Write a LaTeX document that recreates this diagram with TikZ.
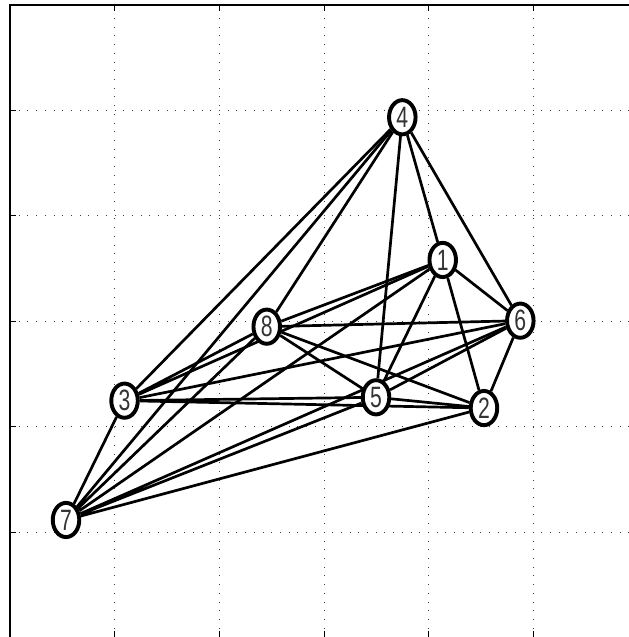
\documentclass[tikz,border=0pt]{standalone}
\usepackage{fontspec}
\newfontfamily\vertexfont{Liberation Sans}
\usetikzlibrary{shapes.geometric,backgrounds}

\tikzset{
  vertex/.style={ellipse, draw, line width=3.2pt, fill=white,
    minimum width=0.76cm, minimum height=0.98cm, inner sep=0pt,
    font=\vertexfont\fontsize{24}{24}\selectfont, text=black!80},
  link/.style={line width=2.2pt},
  gridline/.style={line width=0.8pt, black!75, dash pattern=on 0.8pt off 6.3pt},
  axistick/.style={line width=0.8pt}
}
\newcommand{\vlabel}[1]{\scalebox{0.72}[1]{#1}}

\begin{document}
\begin{tikzpicture}[x=3cm, y=3.02cm]
    \useasboundingbox (-0.0955,0.0038) rectangle (5.912,6.0475);

    \node[vertex] (n1) at (4.133,3.581) {\vlabel{1}};
    \node[vertex] (n2) at (4.527,2.176) {\vlabel{2}};
    \node[vertex] (n3) at (1.094,2.246) {\vlabel{3}};
    \node[vertex] (n4) at (3.747,4.935) {\vlabel{4}};
    \node[vertex] (n5) at (3.496,2.278) {\vlabel{5}};
    \node[vertex] (n6) at (4.874,3.005) {\vlabel{6}};
    \node[vertex] (n7) at (0.535,1.114) {\vlabel{7}};
    \node[vertex] (n8) at (2.452,2.948) {\vlabel{8}};

    \begin{pgfonlayer}{background}
    \foreach \k in {1,...,5} {
        \draw[gridline] (\k,0) -- (\k,6);
        \draw[gridline] (0,\k) -- (6,\k);
    }

    \draw[link] (n7) -- (n3) (n7) -- (n4) (n7) -- (n8) (n7) -- (n1);
    \draw[link] (n7) -- (n5) (n7) -- (n6) (n7) -- (n2);
    \draw[link] (n3) -- (n4) (n3) -- (n8) (n3) -- (n1);
    \draw[link] (n3) -- (n6) (n3) -- (n5) (n3) -- (n2);
    \draw[link] (n8) -- (n4) (n8) -- (n1) (n8) -- (n6);
    \draw[link] (n8) -- (n5) (n8) -- (n2);
    \draw[link] (n5) -- (n4) (n5) -- (n1) (n5) -- (n6) (n5) -- (n2);
    \draw[link] (n1) -- (n4) (n1) -- (n6) (n1) -- (n2);
    \draw[link] (n6) -- (n4) (n6) -- (n2);
    \end{pgfonlayer}

    \draw[line width=1.5pt] (0,-0.1) -- (0,6) -- (6,6) -- (6,-0.1);
    \foreach \k in {1,...,5} {
        \draw[axistick] (0,\k) -- ++(0.057,0);
        \draw[axistick] (\k,6) -- ++(0,-0.057);
        \draw[axistick] (\k,0) -- ++(0,0.057);
    }
\end{tikzpicture}
\end{document}
